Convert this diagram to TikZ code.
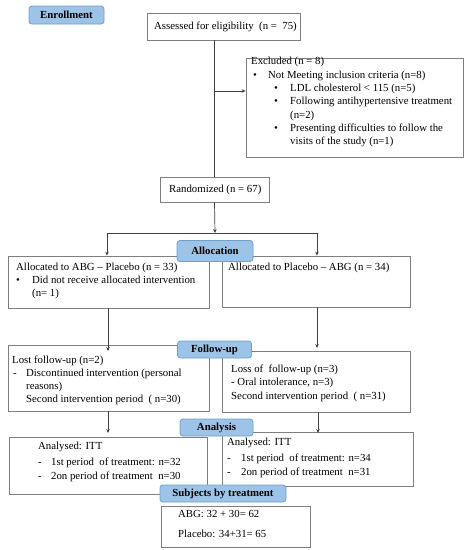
\documentclass[tikz,border=0pt]{standalone}
\usepackage{fontspec}
\setmainfont{Liberation Serif}
\usetikzlibrary{arrows.meta}
\definecolor{badgefill}{HTML}{9DC3E6}
\definecolor{badgeline}{HTML}{6F9FCC}
\definecolor{boxline}{HTML}{7F7F7F}
\definecolor{conn}{HTML}{404040}
\tikzset{
  box/.style={draw=boxline, line width=0.8pt, rectangle, fill=white, inner sep=0pt},
  badge/.style={draw=badgeline, line width=0.8pt, fill=badgefill, rounded corners=3pt, inner sep=0pt, font=\fontsize{10.8}{12}\selectfont\bfseries},
  txt/.style={anchor=west, inner sep=0pt, text height=7.5pt, text depth=2.5pt, font=\fontsize{10.8}{12}\selectfont},
  conn/.style={draw=conn, line width=0.7pt},
  arr/.style={conn, -{Stealth[length=4pt,width=3.5pt]}},
}
\newcommand{\bul}[1]{\makebox[#1][l]{•}}
\newcommand{\dsh}[1]{\makebox[#1][l]{-}}
\begin{document}
\begin{tikzpicture}[x=1pt,y=-1pt]
\useasboundingbox[fill=white] (0,0) rectangle (472,550);
% boxes
\node[box, minimum width=153pt, minimum height=27pt] (assess) at (223.5,26.5) {};
\node[box, minimum width=217pt, minimum height=99pt] (excl) at (354.5,107.5) {};
\node[box, minimum width=109pt, minimum height=25pt] (rand) at (214.5,189.5) {};
\node[box, minimum width=201pt, minimum height=52pt] (allocL) at (108.5,282) {};
\node[box, minimum width=188pt, minimum height=51pt] (allocR) at (316,281.5) {};
\node[box, minimum width=201pt, minimum height=66pt] (followL) at (108.5,378) {};
\node[box, minimum width=188pt, minimum height=61pt] (followR) at (316,381.5) {};
\node[box, minimum width=198pt, minimum height=57pt] (anaL) at (108,465.5) {};
\node[box, minimum width=191pt, minimum height=54pt] (anaR) at (317.5,459) {};
\node[box, minimum width=149pt, minimum height=41pt] (subj) at (235.5,526.5) {};
% texts
\node[txt] (tassess) at (154,26.5) {Assessed for eligibility\ \ (n =\ \ 75)};
\node[txt] (te1) at (251,62) {Excluded (n = 8)};
\node[txt] (te2) at (253,76) {\bul{15pt}Not Meeting inclusion criteria (n=8)};
\node[txt] (te3) at (274,89) {\bul{16pt}LDL cholesterol < 115 (n=5)};
\node[txt] (te4) at (274,102) {\bul{16pt}Following\ antihypertensive treatment};
\node[txt] (te5) at (290,116) {(n=2)};
\node[txt] (te6) at (274,129) {\bul{16pt}Presenting difficulties to follow the};
\node[txt] (te7) at (290,142) {visits\ of the study (n=1)};
\node[txt] (trand) at (169,189.5) {Randomized (n = 67)};
\node[txt] (tal1) at (16,268) {Allocated to ABG -- Placebo (n = 33)};
\node[txt] (tal2) at (16,281) {\bul{16pt}Did not receive allocated intervention};
\node[txt] (tal3) at (32,294) {(n= 1)};
\node[txt] (tar1) at (228,268) {Allocated to Placebo -- ABG (n = 34)};
\node[txt] (tfl1) at (12,361) {Lost follow-up (n=2)};
\node[txt] (tfl2) at (13,374) {\dsh{13pt}Discontinued intervention (personal};
\node[txt] (tfl3) at (26,387) {reasons)};
\node[txt] (tfl4) at (26,400) {Second intervention period\ \ ( n=30)};
\node[txt] (tfr1) at (231,370) {Loss of\ \ follow-up (n=3)};
\node[txt] (tfr2) at (231,383) {- Oral intolerance, n=3)};
\node[txt] (tfr3) at (231,397) {Second intervention period\ \ ( n=31)};
\node[txt] (tal1a) at (38,447) {Analysed: ITT};
\node[txt] (tal2a) at (38,463) {\dsh{13pt}1st period\ \ of treatment: n=32};
\node[txt] (tal3a) at (38,477) {\dsh{13pt}2on period of treatment\ \ n=30};
\node[txt] (tar1a) at (227,443) {Analysed: ITT};
\node[txt] (tar2a) at (227,459) {\dsh{14pt}1st period\ \ of treatment: n=34};
\node[txt] (tar3a) at (227,473) {\dsh{14pt}2on period of treatment\ \ n=31};
\node[txt] (ts1) at (178,515) {ABG: 32 + 30= 62};
\node[txt] (ts2) at (178,535) {Placebo: 34+31= 65};
% connectors
\coordinate (j1) at (215,91);
\coordinate (j2) at (215,233);
\coordinate (sl) at (107,233);
\coordinate (sr) at (317,233);
\draw[conn] (rand.north |- assess.south) -- (rand.north);
\draw[arr] (j1) -- (j1 -| excl.west);
\draw[arr] (rand.south) -- (j2);
\draw[conn] (sl) -- (sr);
\draw[arr] (sl) -- (sl |- allocL.north);
\draw[arr] (sr) -- (sr |- allocR.north);
\coordinate (fl) at (108,351);
\coordinate (fr) at (317,348);
\draw[arr] (allocL.south -| fl) -- (fl);
\draw[arr] (allocR.south -| fr) -- (fr);
\coordinate (al) at (108,433);
\coordinate (ar) at (318,433);
\draw[arr] (followL.south -| al) -- (al);
\draw[arr] (followR.south -| ar) -- (ar);
% badges
\node[badge, minimum width=75pt, minimum height=18pt] (benroll) at (66.5,15) {Enrollment};
\node[badge, minimum width=76pt, minimum height=21pt] (balloc) at (215,251) {Allocation};
\node[badge, minimum width=74pt, minimum height=17pt] (bfollow) at (214.5,349.5) {Follow-up};
\node[badge, minimum width=73pt, minimum height=17pt] (bana) at (216.5,427.5) {Analysis};
\node[badge, minimum width=126pt, minimum height=17pt] (bsubj) at (223,493.5) {Subjects by treatment};
\end{tikzpicture}
\end{document}
